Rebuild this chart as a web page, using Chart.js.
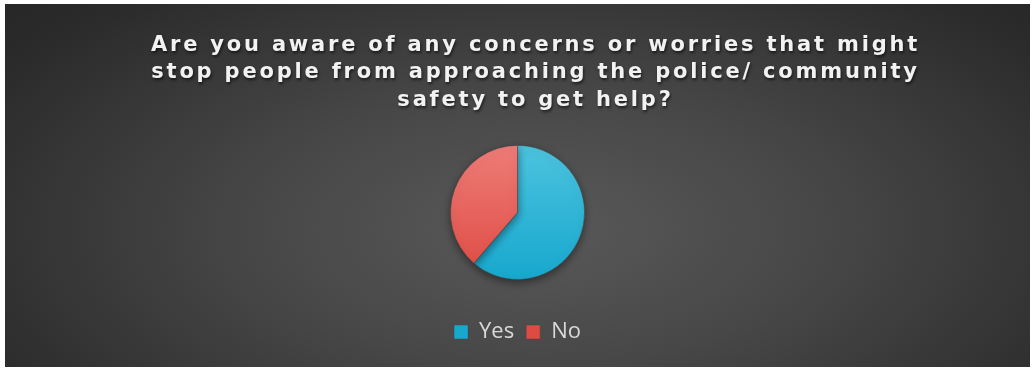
<!DOCTYPE html>
<html lang="en">
<head>
<meta charset="UTF-8">
<title>Concerns about approaching the police / community safety</title>
<script src="https://cdn.jsdelivr.net/npm/chart.js"></script>
<style>
  html, body { margin: 0; padding: 0; background: #ffffff; }
  .frame {
    position: absolute;
    left: 5px;
    top: 4px;
    width: 1025px;
    height: 363px;
    background: radial-gradient(ellipse 70% 95% at 52% 62%, #595959 0%, #474747 40%, #2c2c2c 85%, #262626 100%);
  }
</style>
</head>
<body>
<div class="frame"><canvas id="pieChart"></canvas></div>
<script>
// chart data
const titleLines = [
  'Are you aware of any concerns or worries that might',
  'stop people from approaching the police/ community',
  'safety to get help?'
];
const categories = ['Yes', 'No'];
const responses = [61.3, 38.7];

// slice colours (top and bottom of the gradient)
const topColours = ['#4cc3de', '#ee7c78'];
const bottomColours = ['#17a8ce', '#de4b42'];
const PIE_RADIUS = 67;

function sliceGradient(c) {
  const area = c.chart.chartArea;
  if (!area) return topColours[c.dataIndex];
  const cy = (area.top + area.bottom) / 2;
  const g = c.chart.ctx.createLinearGradient(0, cy - PIE_RADIUS, 0, cy + PIE_RADIUS);
  g.addColorStop(0, topColours[c.dataIndex]);
  g.addColorStop(1, bottomColours[c.dataIndex]);
  return g;
}

// letter spacing + shadow on the title only
const titleStyle = {
  id: 'titleStyle',
  afterLayout(chart) {
    const t = chart.titleBlock;
    if (!t || t._styled) return;
    const draw = t.draw.bind(t);
    t.draw = function () {
      const ctx = chart.ctx;
      ctx.save();
      ctx.letterSpacing = '2.8px';
      ctx.shadowColor = 'rgba(0, 0, 0, 0.6)';
      ctx.shadowBlur = 3;
      ctx.shadowOffsetX = 1;
      ctx.shadowOffsetY = 2;
      ctx.translate(18, 0);
      draw();
      ctx.restore();
    };
    t._styled = true;
  }
};

// soft shadow under the pie
const pieShadow = {
  id: 'pieShadow',
  beforeDatasetsDraw(chart) {
    const ctx = chart.ctx;
    ctx.save();
    ctx.shadowColor = 'rgba(0, 0, 0, 0.45)';
    ctx.shadowBlur = 8;
    ctx.shadowOffsetY = 3;
  },
  afterDatasetsDraw(chart) {
    chart.ctx.restore();
  }
};

const ctx = document.getElementById('pieChart').getContext('2d');
new Chart(ctx, {
  type: 'pie',
  data: {
    labels: categories,
    datasets: [{
      data: responses,
      backgroundColor: sliceGradient,
      borderColor: 'rgba(70, 70, 70, 0.6)',
      borderWidth: 0.75
    }]
  },
  options: {
    responsive: true,
    maintainAspectRatio: false,
    animation: false,
    radius: PIE_RADIUS,
    layout: { padding: { top: 0, bottom: 14 } },
    plugins: {
      title: {
        display: true,
        text: titleLines,
        color: '#f2f2f2',
        font: { family: 'DejaVu Sans', size: 21, weight: 'bold', lineHeight: 1.3 },
        padding: { top: 28, bottom: 2 }
      },
      legend: {
        position: 'bottom',
        labels: {
          color: '#d9d9d9',
          boxWidth: 14,
          boxHeight: 14,
          padding: 12,
          font: { family: 'Open Sans', size: 22 }
        }
      },
      tooltip: { enabled: false }
    }
  },
  plugins: [titleStyle, pieShadow]
});
</script>
</body>
</html>
